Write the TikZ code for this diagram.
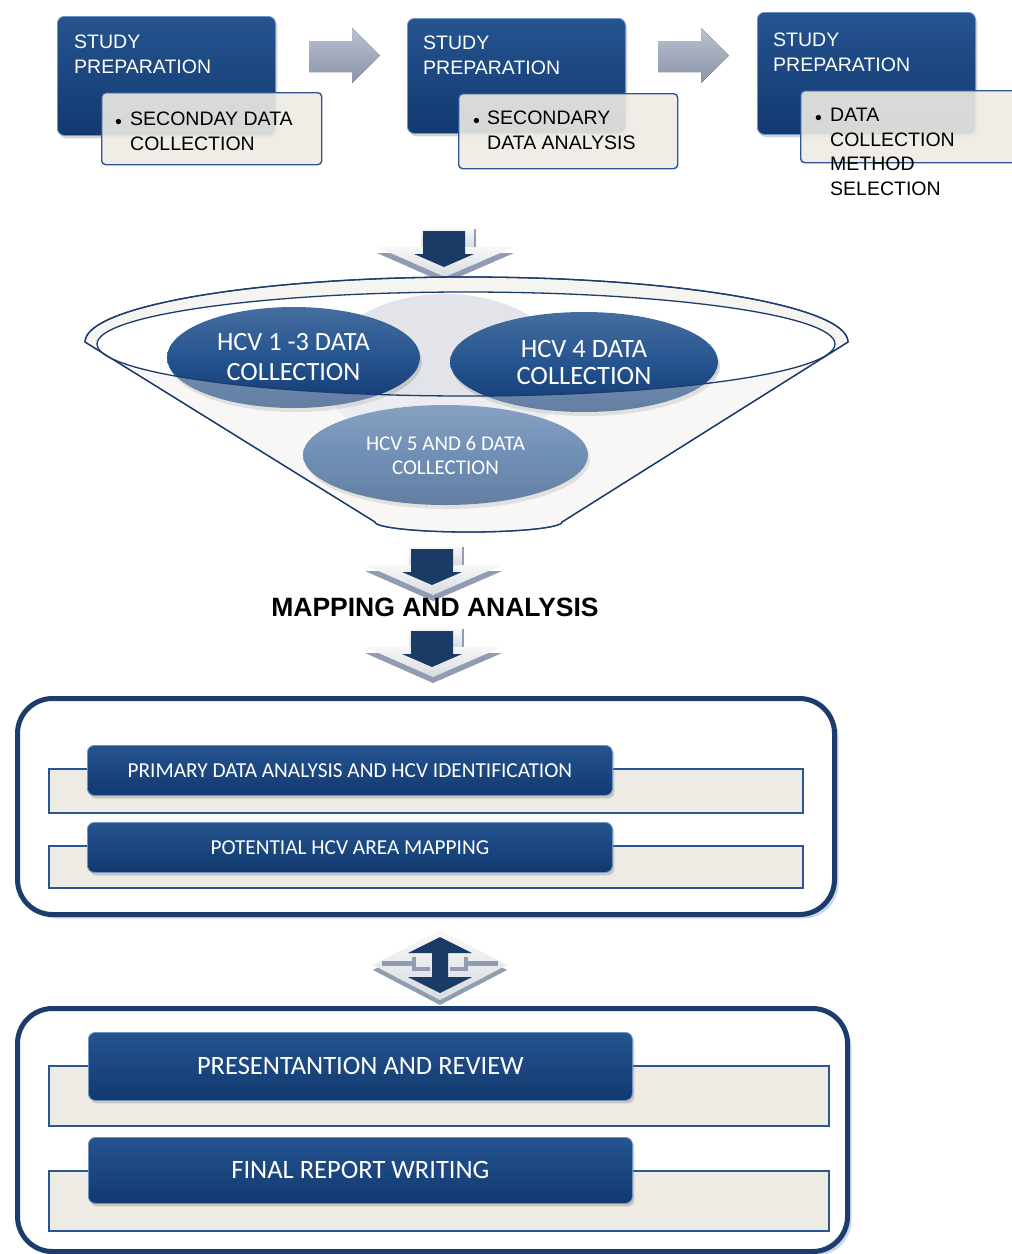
\documentclass[tikz,border=0pt]{standalone}
\usepackage{fontspec}
\setmainfont{Liberation Sans}
\newfontfamily\calib{Carlito}
\usetikzlibrary{shapes.geometric}
\usetikzlibrary{shadows}
\usetikzlibrary{calc}

\definecolor{navyA}{HTML}{25548F}
\definecolor{navyB}{HTML}{123970}
\definecolor{navyEdge}{HTML}{6F93C4}
\definecolor{paper}{HTML}{EDEBE3}
\definecolor{paperEdge}{HTML}{2A5794}
\definecolor{frame}{HTML}{1B3C6C}
\definecolor{frameGlow}{HTML}{CBD8EA}
\definecolor{arrowDark}{HTML}{1B3B67}
\definecolor{chevTop}{HTML}{F8F8F8}
\definecolor{chevBot}{HTML}{D8DBE1}
\definecolor{chevShade}{HTML}{8F9CB1}
\definecolor{grayA}{HTML}{BAC1D0}
\definecolor{grayB}{HTML}{8A94A9}
\definecolor{funnelFill}{HTML}{F5F4F0}
\definecolor{blob}{HTML}{E2E4E9}

\tikzset{
	darkbox/.style={rectangle, rounded corners=7pt, top color=navyA, bottom color=navyB, draw=navyEdge, line width=0.8pt, drop shadow={shadow xshift=2pt, shadow yshift=-3pt, opacity=0.35}, anchor=north west, inner sep=0pt},
	notebox/.style={rectangle, rounded corners=4pt, fill=paper, fill opacity=0.9, draw=paperEdge, line width=1.4pt, anchor=north west, inner sep=0pt},
	striprow/.style={rectangle, fill=paper, draw=paperEdge, line width=1.5pt, anchor=north west, inner sep=0pt},
	framebox/.style={rectangle, rounded corners=35pt, fill=white, draw=frame, line width=5pt, anchor=north west, inner sep=0pt, drop shadow={fill=frameGlow, opacity=1, shadow xshift=4pt, shadow yshift=-4pt}},
	hcvblob/.style={ellipse, top color=navyA!85!white, bottom color=navyB, middle color=navyA, text=white, align=center, inner sep=0pt, drop shadow={shadow xshift=2pt, shadow yshift=-4pt, opacity=0.3}},
	steptext/.style={anchor=north west, inner sep=0pt, align=left, text=white, font=\fontsize{19.5}{25}\selectfont},
	notetext/.style={anchor=north west, inner sep=0pt, align=left, text=black, font=\fontsize{19.5}{24.5}\selectfont},
	stagetext/.style={text=white, font=\calib\fontsize{21.3}{25}\selectfont},
	bigtext/.style={text=white, font=\calib\fontsize{26.5}{30}\selectfont},
	funnelline/.style={draw=frame, line width=1.3pt},
	grayarrow/.style={top color=grayA, bottom color=grayB},
	downmark/.pic={
		\fill[chevShade] (-68,6) -- (69,6) -- (0,36) -- cycle;
		\shade[top color=chevTop, bottom color=chevBot] (-24,-18) rectangle (31,1);
		\fill[chevShade] (29,-18) rectangle (31,0);
		\shade[top color=chevTop, bottom color=chevBot] (-68,0) -- (69,0) -- (0,30) -- cycle;
		\fill[arrowDark] (-22,-16) -- (20,-16) -- (20,7) -- (29,7) -- (-1,20) -- (-31,7) -- (-22,7) -- cycle;
	},
	updown/.pic={
		\fill[chevShade] (-67,5) -- (0,-30) -- (67,5) -- (0,40) -- cycle;
		\shade[top color=chevTop, bottom color=chevBot] (-67,0) -- (0,-35) -- (67,0) -- (0,35) -- cycle;
		\fill[chevShade] (-58,-4) rectangle (-28,1);
		\fill[chevShade] (-28,-8) rectangle (-24,6);
		\fill[chevShade] (-24,2) rectangle (-10,6);
		\fill[chevShade] (58,-4) rectangle (28,1);
		\fill[chevShade] (28,-8) rectangle (24,6);
		\fill[chevShade] (24,2) rectangle (10,6);
		\fill[arrowDark] (0,-28) -- (32,-12) -- (8,-12) -- (8,12) -- (32,12) -- (0,28) -- (-32,12) -- (-8,12) -- (-8,-12) -- (-32,-12) -- cycle;
	}
}

\begin{document}
\begin{tikzpicture}[x=1pt,y=-1pt]
	\useasboundingbox (0,0) rectangle (1012,1254);

	% top row
	\node[darkbox, minimum width=218pt, minimum height=119pt] (prep1) at (57,16) {};
	\node[notebox, minimum width=220pt, minimum height=72pt] (note1) at (101,92) {};
	\node[steptext] (prep1t) at (74,35) {STUDY\\PREPARATION};
	\node[notetext, anchor=base west] (dot1) at (115,128) {\textbullet};
	\node[notetext] (note1t) at (130,112) {SECONDAY DATA\\COLLECTION};

	\node[darkbox, minimum width=218pt, minimum height=115pt] (prep2) at (407,18) {};
	\node[notebox, minimum width=219pt, minimum height=75pt] (note2) at (458,93) {};
	\node[steptext] (prep2t) at (423,36) {STUDY\\PREPARATION};
	\node[notetext, anchor=base west] (dot2) at (473,127) {\textbullet};
	\node[notetext] (note2t) at (487,111) {SECONDARY\\DATA ANALYSIS};

	\node[darkbox, minimum width=218pt, minimum height=122pt] (prep3) at (757,12) {};
	\node[notebox, minimum width=240pt, minimum height=72pt] (note3) at (800,90) {};
	\node[steptext] (prep3t) at (773,33) {STUDY\\PREPARATION};
	\node[notetext, anchor=base west] (dot3) at (815,124) {\textbullet};
	\node[notetext] (note3t) at (830,108) {DATA\\COLLECTION\\METHOD\\SELECTION};

	\fill[grayarrow] (309,41) -- (352,41) -- (352,28) -- (380,55.5) -- (352,83) -- (352,72) -- (309,72) -- cycle;
	\fill[grayarrow] (658,41) -- (701,41) -- (701,28) -- (729,55.5) -- (701,83) -- (701,72) -- (658,72) -- cycle;

	\pic (down1) at (445,247) {downmark};

	% funnel
	\filldraw[funnelline, fill=funnelFill] (85,342) -- (375,522) arc[start angle=180, end angle=0, x radius=93.5, y radius=10] -- (848,342) arc[start angle=0, end angle=-180, x radius=381.5, y radius=65] -- cycle;
	\fill[white] (466,344) ellipse[x radius=369, y radius=52];
	\fill[blob] (445,372) ellipse[x radius=122, y radius=78];
	\node[hcvblob, minimum width=253pt, minimum height=101pt, font=\calib\fontsize{26.3}{30}\selectfont] (hcv13) at (293.5,357.5) {HCV 1 -3 DATA\\COLLECTION};
	\node[hcvblob, minimum width=268pt, minimum height=100pt, font=\calib\fontsize{26.5}{27}\selectfont] (hcv4) at (584,362) {HCV 4 DATA\\COLLECTION};
	\node[hcvblob, minimum width=285pt, minimum height=100pt, font=\calib\fontsize{21}{24}\selectfont] (hcv56) at (445.5,455) {HCV 5 AND 6 DATA\\COLLECTION};
	\fill[white, opacity=0.35] (97,344) arc[start angle=180, end angle=0, x radius=369, y radius=52] -- (848,342) -- (562,522) arc[start angle=0, end angle=180, x radius=93.5, y radius=10] -- (85,342) -- cycle;
	\draw[funnelline] (466,344) ellipse[x radius=369, y radius=52];
	\draw[funnelline] (85,342) -- (375,522) arc[start angle=180, end angle=0, x radius=93.5, y radius=10] -- (848,342) arc[start angle=0, end angle=-180, x radius=381.5, y radius=65] -- cycle;

	\pic (down2) at (433,565) {downmark};
	\node[font=\bfseries\fontsize{26.5}{30}\selectfont, anchor=base, inner sep=0pt] (mapping) at (435,616) {MAPPING AND ANALYSIS};
	\pic (down3) at (433,647) {downmark};

	% analysis stage
	\node[framebox, minimum width=817pt, minimum height=216pt] (stageA) at (15,696) {};
	\node[striprow, minimum width=754pt, minimum height=44pt] (rowA1) at (48,768) {};
	\node[striprow, minimum width=754pt, minimum height=42pt] (rowA2) at (48,845) {};
	\node[darkbox, stagetext, minimum width=525pt, minimum height=50pt] (taskA1) at (87,745) {PRIMARY DATA ANALYSIS AND HCV IDENTIFICATION};
	\node[darkbox, stagetext, minimum width=525pt, minimum height=50pt] (taskA2) at (87,822) {POTENTIAL HCV AREA MAPPING};

	\pic (swap) at (440,965) {updown};

	% reporting stage
	\node[framebox, minimum width=830pt, minimum height=243pt] (stageB) at (15,1006) {};
	\node[striprow, minimum width=780pt, minimum height=60pt] (rowB1) at (48,1065) {};
	\node[striprow, minimum width=780pt, minimum height=60pt] (rowB2) at (48,1170) {};
	\node[darkbox, bigtext, minimum width=544pt, minimum height=68pt] (taskB1) at (88,1032) {PRESENTANTION AND REVIEW};
	\node[darkbox, bigtext, minimum width=544pt, minimum height=66pt] (taskB2) at (88,1137) {FINAL REPORT WRITING};
\end{tikzpicture}
\end{document}
